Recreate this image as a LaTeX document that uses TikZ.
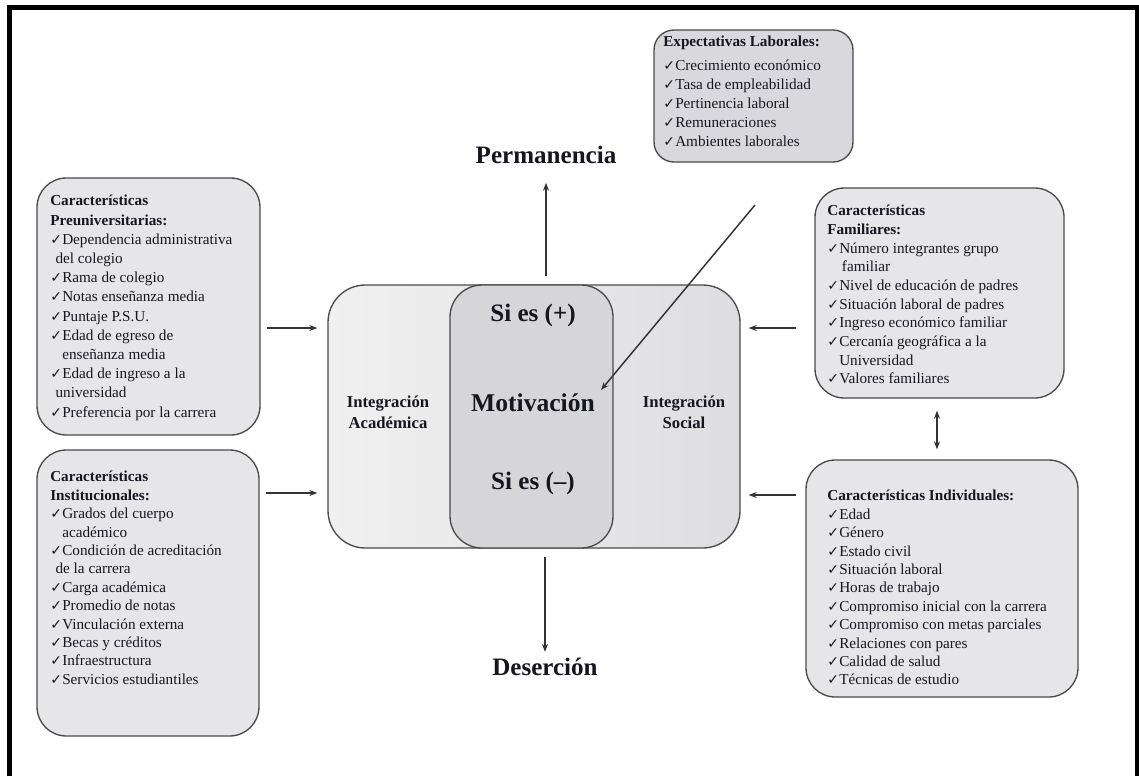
\documentclass[tikz,border=0pt]{standalone}
\usepackage{fontspec}
\setmainfont{Liberation Serif}
\newfontfamily\symfont{DejaVu Sans}
\usetikzlibrary{arrows.meta,fit}

\definecolor{boxfill}{HTML}{E6E6E9}
\definecolor{expfill}{HTML}{D9D9DD}
\definecolor{boxline}{HTML}{4A4A4A}
\definecolor{bigleft}{HTML}{F0F0F0}
\definecolor{bigright}{HTML}{DEDEE1}
\definecolor{motfill}{HTML}{D6D6D9}
\definecolor{ink}{HTML}{16161F}
\definecolor{arrowcol}{HTML}{333333}

% check mark used in front of every listed item
\newcommand{\ck}{{\symfont\fontsize{10.5}{10.5}\selectfont ✓}\hspace{0.2pt}}
\newcommand{\hangck}{\hphantom{\ck}}

\tikzset{
  infobox/.style={draw=boxline, fill=boxfill, line width=1pt, rounded corners=22pt, inner sep=0pt},
  listtext/.style={anchor=north west, inner sep=0pt, align=left, text=ink,
    font=\fontsize{11.4}{13.8}\selectfont},
  bigtitle/.style={inner sep=0pt, text=ink, font=\fontsize{18.8}{20}\selectfont\bfseries},
  midtitle/.style={inner sep=0pt, align=center, text=ink, font=\fontsize{12.5}{15.8}\selectfont\bfseries},
  arr/.style={draw=arrowcol, line width=1.1pt, -{Stealth[length=6pt,width=4.5pt]}},
  dblarr/.style={draw=arrowcol, line width=1.1pt, {Stealth[length=6pt,width=4.5pt]}-{Stealth[length=6pt,width=4.5pt]}},
}

\begin{document}
\begin{tikzpicture}[x=0.75pt,y=-0.75pt]
\useasboundingbox (0,0) rectangle (1139,776);
\fill[white] (0,0) rectangle (1139,776);

% page frame
\draw[line width=3.2pt] (9.5,776) -- (9.5,7.5) -- (1137,7.5) -- (1137,776);

% factor boxes
\node[infobox, fill=expfill, rounded corners=15pt, fit={(654,30) (853,162)}] (expect) {};
\node[infobox, fit={(37,178) (260,435)}] (preu) {};
\node[infobox, fit={(37,450) (259,736)}] (inst) {};
\node[infobox, fit={(815,188) (1064,398)}] (fam) {};
\node[infobox, fit={(806,460) (1078,697)}] (indiv) {};

% central integration block and motivation core
\node[draw=boxline, line width=1pt, rounded corners=28pt, left color=bigleft, right color=bigright,
      inner sep=0pt, fit={(328,285) (740,548)}] (integ) {};
\node[draw=boxline, line width=1pt, rounded corners=24pt, fill=motfill,
      inner sep=0pt, fit={(450,285) (613,548)}] (motiv) {};

% lists
\node[listtext, font=\fontsize{11.4}{14.4}\selectfont] (expect-t) at (663,36) {%
  \textbf{Expectativas Laborales:}\\[3pt]
  \ck Crecimiento económico\\
  \ck Tasa de empleabilidad\\
  \ck Pertinencia laboral\\
  \ck Remuneraciones\\
  \ck Ambientes laborales};

\node[listtext, font=\fontsize{11.4}{14.4}\selectfont] (preu-t) at (50,195) {%
  \textbf{Características}\\
  \textbf{Preuniversitarias:}\\
  \ck Dependencia administrativa\\
  \hspace{4pt}del colegio\\
  \ck Rama de colegio\\
  \ck Notas enseñanza media\\
  \ck Puntaje P.S.U.\\
  \ck Edad de egreso de\\
  \hangck enseñanza media\\
  \ck Edad de ingreso a la\\
  \hspace{4pt}universidad\\
  \ck Preferencia por la carrera};

\node[listtext] (inst-t) at (50,471) {%
  \textbf{Características}\\
  \textbf{Institucionales:}\\
  \ck Grados del cuerpo\\
  \hangck académico\\
  \ck Condición de acreditación\\
  \hspace{4pt}de la carrera\\
  \ck Carga académica\\
  \ck Promedio de notas\\
  \ck Vinculación externa\\
  \ck Becas y créditos\\
  \ck Infraestructura\\
  \ck Servicios estudiantiles};

\node[listtext, font=\fontsize{11.4}{14}\selectfont] (fam-t) at (827,205) {%
  \textbf{Características}\\
  \textbf{Familiares:}\\
  \ck Número integrantes grupo\\
  \hangck\hspace{2pt}familiar\\
  \ck Nivel de educación de padres\\
  \ck Situación laboral de padres\\
  \ck Ingreso económico familiar\\
  \ck Cercanía geográfica a la\\
  \hangck Universidad\\
  \ck Valores familiares};

\node[listtext] (indiv-t) at (827,490) {%
  \textbf{Características Individuales:}\\
  \ck Edad\\
  \ck Género\\
  \ck Estado civil\\
  \ck Situación laboral\\
  \ck Horas de trabajo\\
  \ck Compromiso inicial con la carrera\\
  \ck Compromiso con metas parciales\\
  \ck Relaciones con pares\\
  \ck Calidad de salud\\
  \ck Técnicas de estudio};

% central labels
\node[bigtitle] (siplus) at (533,315) {Si es (+)};
\node[bigtitle, font=\fontsize{19.2}{20}\selectfont\bfseries] (motivtxt) at (533,403) {Motivación};
\node[bigtitle] (siminus) at (533,483) {Si es (–)};
\node[midtitle] (acad) at (388,412) {Integración\\Académica};
\node[midtitle] (soc) at (684,412) {Integración\\Social};

% outcomes
\node[bigtitle] (perm) at (546,155) {Permanencia};
\node[bigtitle] (deser) at (545,667) {Deserción};

% connectors
\draw[arr, shorten <=6pt, shorten >=14pt] (integ.north -| perm.south) -- (perm.south);
\draw[arr, shorten <=6.5pt, shorten >=4.5pt] (integ.south -| deser.north) -- (deser.north);

\draw[arr, shorten <=4.5pt, shorten >=7.5pt] (preu.east |- 0,328) -- (integ.west |- 0,328);
\draw[arr, shorten <=4.5pt, shorten >=7.5pt] (inst.east |- 0,493) -- (integ.west |- 0,493);
\draw[arr, shorten <=13.5pt, shorten >=6pt] (fam.west |- 0,328) -- (integ.east |- 0,328);
\draw[arr, shorten <=6.75pt, shorten >=6pt] (indiv.west |- 0,495) -- (integ.east |- 0,495);

\draw[dblarr, shorten <=9pt, shorten >=7.5pt] (fam.south -| 937,0) -- (indiv.north -| 937,0);

\coordinate (expfoot) at (755,205);
\coordinate (motin) at (601,390);
\draw[arr] (expfoot) -- (motin);
\end{tikzpicture}
\end{document}
